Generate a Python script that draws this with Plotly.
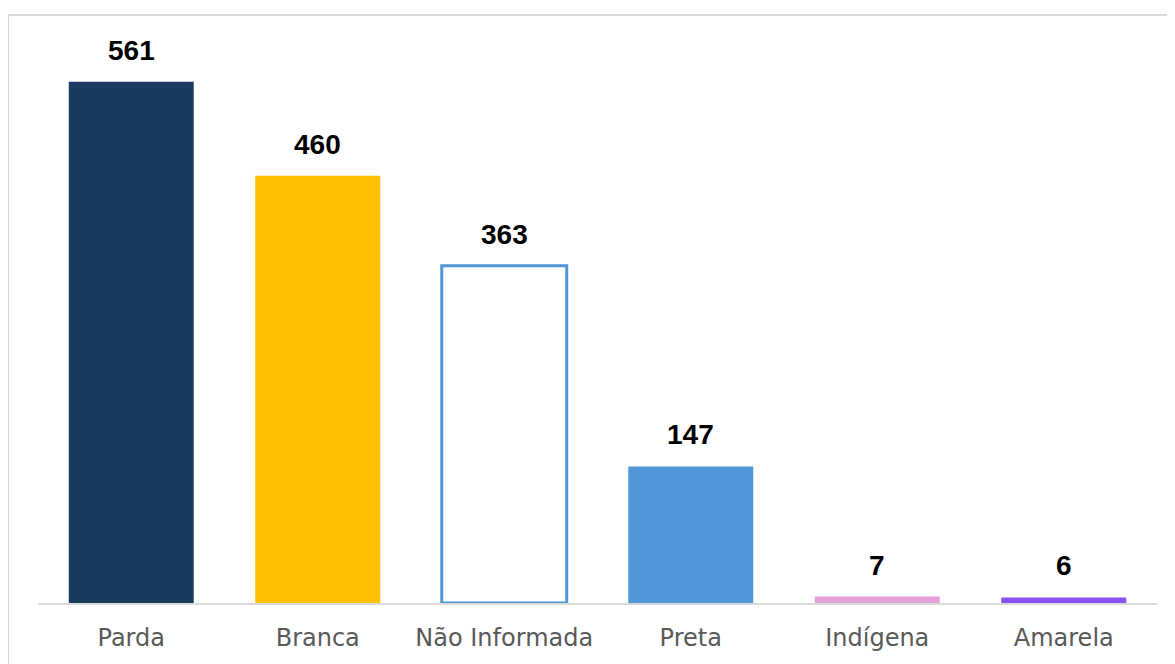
import plotly.graph_objects as go

categories = ["Parda", "Branca", "Não Informada", "Preta", "Indígena", "Amarela"]
counts = [561, 460, 363, 147, 7, 6]
fill_colors = ["#193b60", "#ffc000", "#ffffff", "#5097d8", "#e29fda", "#8b50f2"]
line_colors = ["#193b60", "#ffc000", "#5097d8", "#5097d8", "#e29fda", "#8b50f2"]
line_widths = [0, 0, 3, 0, 0, 0]

fig = go.Figure()
fig.add_trace(go.Bar(
    x=categories, y=counts,
    marker=dict(color=fill_colors, line=dict(color=line_colors, width=line_widths)),
    hoverinfo="x+y",
))

for cat, val in zip(categories, counts):
    fig.add_annotation(
        x=cat, y=val, text=f"<b>{val}</b>", showarrow=False,
        yanchor="bottom", yshift=14,
        font=dict(family="Liberation Sans, Arial", size=28, color="#000000"),
    )

# light frame round the chart area, as in the original
fig.add_shape(type="rect", xref="paper", yref="paper",
              x0=-0.0268, x1=1.2, y0=-0.3, y1=1.0208,
              line=dict(color="#d9d9d9", width=2), fillcolor="rgba(0,0,0,0)", layer="below")

fig.update_layout(
    width=1175, height=664,
    margin=dict(l=30, r=26, t=19, b=69),
    paper_bgcolor="white", plot_bgcolor="white",
    bargap=0.33, showlegend=False,
    font=dict(family="DejaVu Sans, Liberation Sans, Arial"),
)
fig.update_xaxes(
    showline=True, linecolor="#d9d9d9", linewidth=2, layer="below traces",
    ticks="", ticklabelstandoff=12,
    tickfont=dict(size=24, color="#595959", family="DejaVu Sans, Liberation Sans"),
)
fig.update_yaxes(range=[0, 620], visible=False, showgrid=False)

fig.write_html("out.html")
